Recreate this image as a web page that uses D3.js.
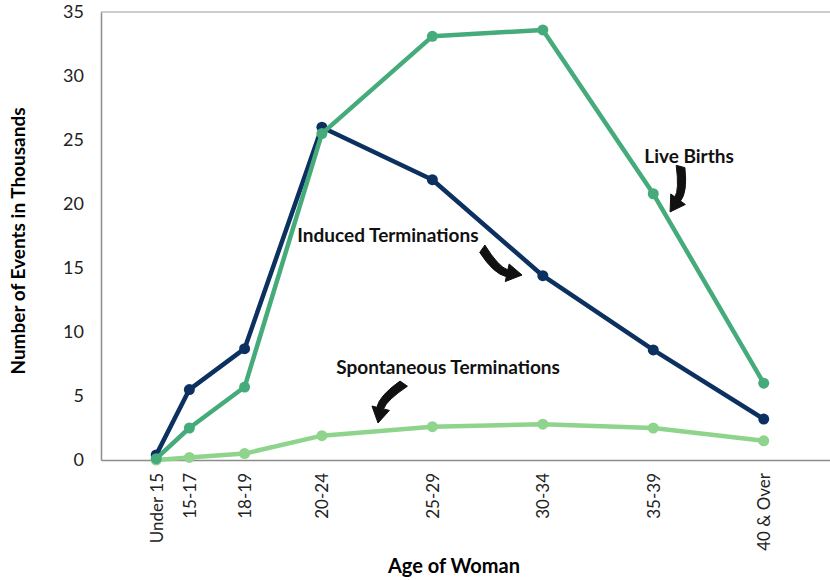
<!DOCTYPE html>
<html>
<head>
<meta charset="utf-8">
<script src="https://cdn.jsdelivr.net/npm/d3@7"></script>
<style>
  body { margin: 0; background: #fff; }
  svg text { font-family: Lato, "Noto Sans", sans-serif; }
</style>
</head>
<body>
<div id="chart"></div>
<script>
// age groups and where they sit on the age axis
const ageLabels = ['Under 15', '15-17', '18-19', '20-24', '25-29', '30-34', '35-39', '40 & Over'];
const ageMid = [14.5, 16, 18.5, 22, 27, 32, 37, 42];

// events in thousands
const induced = [0.4, 5.5, 8.7, 26.0, 21.9, 14.4, 8.6, 3.2];
const liveBirths = [0.1, 2.5, 5.7, 25.5, 33.1, 33.6, 20.8, 6.0];
const spontaneous = [0.0, 0.2, 0.5, 1.9, 2.6, 2.8, 2.5, 1.5];

const yTicks = [0, 5, 10, 15, 20, 25, 30, 35];

const W = 830, H = 580;

var svg = d3.select('#chart')
    .append('svg')
    .attr('width', W)
    .attr('height', H);

const xScale = d3.scaleLinear().domain([12, 45]).range([101, 830]);
const yScale = d3.scaleLinear().domain([0, 35]).range([460, 12]);

// top frame line
svg.append('line')
    .attr('x1', xScale(12)).attr('x2', xScale(45))
    .attr('y1', yScale(35)).attr('y2', yScale(35))
    .attr('stroke', '#bdbdbd').attr('stroke-width', 1.5);

// y axis
const yAxis = svg.append('g')
    .attr('transform', `translate(${xScale(12)},0)`)
    .call(d3.axisLeft(yScale).tickValues(yTicks).tickSize(0).tickPadding(17));
yAxis.select('.domain').attr('stroke', '#8c8c8c').attr('stroke-width', 1.5);
yAxis.selectAll('text')
    .style('font-size', '18px')
    .attr('fill', '#222');

// x axis
const xAxis = svg.append('g')
    .attr('transform', `translate(0,${yScale(0)})`)
    .call(d3.axisBottom(xScale).tickValues(ageMid).tickSize(0)
        .tickFormat((d, i) => ageLabels[i]));
xAxis.select('.domain').attr('stroke', '#8c8c8c').attr('stroke-width', 1.5);
xAxis.selectAll('text')
    .attr('transform', 'rotate(-90)')
    .attr('text-anchor', 'end')
    .attr('dy', '0.35em')
    .attr('x', -13)
    .attr('y', 0)
    .style('font-size', '17px')
    .attr('fill', '#222');

// axis titles
svg.append('text')
    .attr('transform', `translate(25,${(yScale(0) + yScale(35)) / 2 + 5})rotate(-90)`)
    .attr('text-anchor', 'middle')
    .style('font-size', '19px')
    .style('font-weight', 'bold')
    .text('Number of Events in Thousands');

svg.append('text')
    .attr('x', 454)
    .attr('y', 573)
    .attr('text-anchor', 'middle')
    .style('font-size', '20px')
    .style('font-weight', 'bold')
    .text('Age of Woman');

// series
const series = [
    {name: 'spontaneous', values: spontaneous, color: '#8ed48c'},
    {name: 'induced', values: induced, color: '#0c3161'},
    {name: 'live', values: liveBirths, color: '#46ab7b'}
];

const line = d3.line()
    .x((d, i) => xScale(ageMid[i]))
    .y(d => yScale(d));

series.forEach(s => {
    const g = svg.append('g').attr('class', 'series-' + s.name);
    g.append('path')
        .datum(s.values)
        .attr('d', line)
        .attr('fill', 'none')
        .attr('stroke', s.color)
        .attr('stroke-width', 4.5)
        .attr('stroke-linejoin', 'round');
    g.selectAll('circle')
        .data(s.values)
        .enter().append('circle')
        .attr('cx', (d, i) => xScale(ageMid[i]))
        .attr('cy', d => yScale(d))
        .attr('r', 5.5)
        .attr('fill', s.color);
});

// annotations with curved arrows
function curvedArrow(x0, y0, x1, y1, bend) {
    // block arrow along a quadratic curve from (x0,y0) to tip (x1,y1)
    const dx = x1 - x0, dy = y1 - y0;
    const len = Math.sqrt(dx * dx + dy * dy);
    const nx = -dy / len, ny = dx / len;
    const cx = (x0 + x1) / 2 + nx * bend, cy = (y0 + y1) / 2 + ny * bend;
    let tx = x1 - cx, ty = y1 - cy;
    const tl = Math.sqrt(tx * tx + ty * ty);
    tx /= tl; ty /= tl;
    const px = -ty, py = tx;
    const head = 15, hw = 10, w0 = 6, w1 = 5;
    const bx = x1 - tx * head, by = y1 - ty * head;
    const p = d3.path();
    p.moveTo(x0 + nx * w0, y0 + ny * w0);
    p.quadraticCurveTo(cx + nx * (w0 + w1) / 2, cy + ny * (w0 + w1) / 2, bx + px * w1, by + py * w1);
    p.lineTo(bx + px * hw, by + py * hw);
    p.lineTo(x1, y1);
    p.lineTo(bx - px * (hw - 2), by - py * (hw - 2));
    p.lineTo(bx - px * 2, by - py * 2);
    p.quadraticCurveTo(cx - nx * 3, cy - ny * 3, x0 - nx * 3, y0 - ny * 3);
    p.closePath();
    return p.toString();
}

const notes = [
    {text: 'Live Births', x: 38.62, y: 23.2, ax: 38.3, ay: 22.9, bx: 37.76, by: 19.38, bend: -9},
    {text: 'Induced Terminations', x: 24.99, y: 17.0, ax: 29.3, ay: 16.6, bx: 31.06, by: 14.45, bend: 10},
    {text: 'Spontaneous Terminations', x: 27.71, y: 6.7, ax: 25.76, ay: 5.9, bx: 24.54, by: 2.89, bend: 9}
];

notes.forEach(n => {
    svg.append('text')
        .attr('x', xScale(n.x))
        .attr('y', yScale(n.y))
        .attr('text-anchor', 'middle')
        .style('font-size', '19px')
        .style('font-weight', 'bold')
        .attr('fill', '#111')
        .text(n.text);
    svg.append('path')
        .attr('d', curvedArrow(xScale(n.ax), yScale(n.ay), xScale(n.bx), yScale(n.by), n.bend))
        .attr('fill', '#111')
        .attr('stroke', '#111')
        .attr('stroke-width', 1);
});
</script>
</body>
</html>
